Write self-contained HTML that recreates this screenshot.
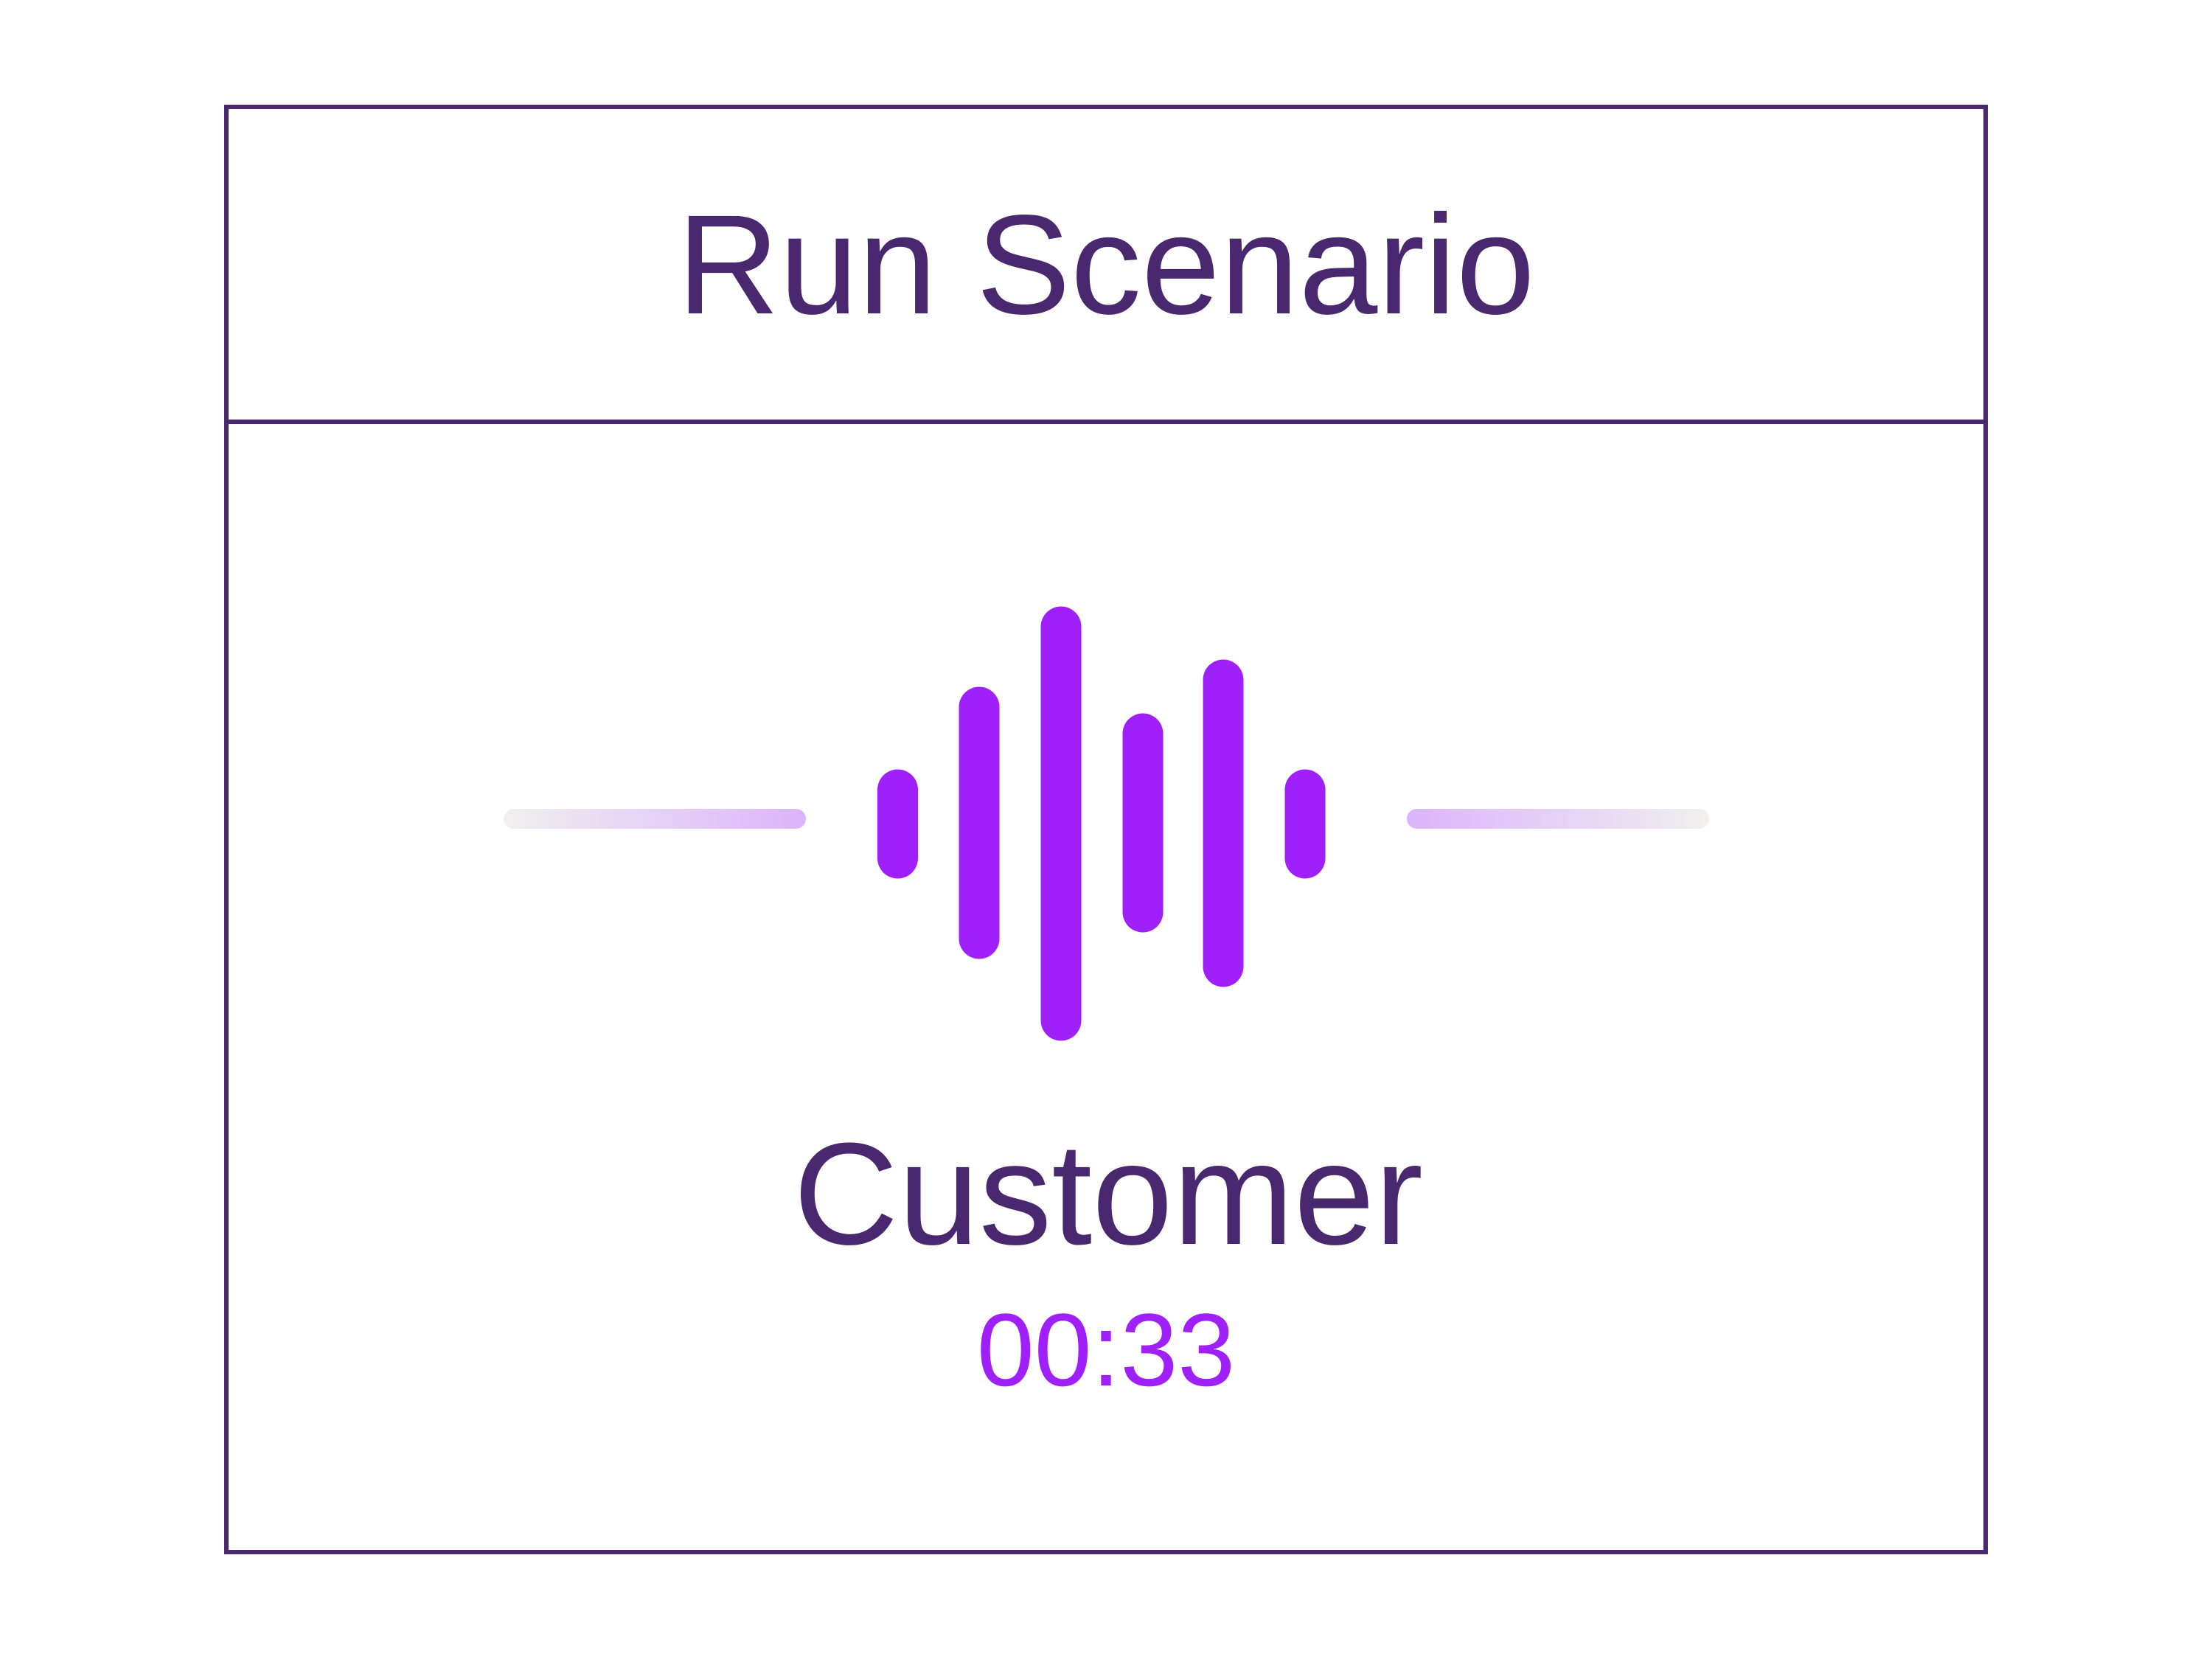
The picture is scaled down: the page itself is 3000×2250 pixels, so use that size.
<!DOCTYPE html>
<html><head><meta charset="utf-8"><style>
html,body{margin:0;padding:0;background:#fff;}
svg{display:block;}
</style></head><body>
<svg width="3000" height="2250" viewBox="0 0 3000 2250" xmlns="http://www.w3.org/2000/svg">
<defs>
<linearGradient id="gl" x1="0" x2="1" y1="0" y2="0"><stop offset="0" stop-color="#f0f0ee"/><stop offset="1" stop-color="#dbb4fb"/></linearGradient>
<linearGradient id="gr" x1="0" x2="1" y1="0" y2="0"><stop offset="0" stop-color="#dbb4fb"/><stop offset="1" stop-color="#f0f0ee"/></linearGradient>
</defs>
<rect x="307" y="145" width="2386" height="1960" fill="none" stroke="#4a2870" stroke-width="6"/>
<line x1="307" y1="572" x2="2693" y2="572" stroke="#4a2870" stroke-width="6"/>
<text x="1500" y="425" text-anchor="middle" font-family="Liberation Sans, sans-serif" font-size="192" fill="#4a2870">Run Scenario</text>
<rect x="683" y="1097" width="410" height="27" rx="13.5" fill="url(#gl)"/>
<rect x="1908" y="1097" width="410" height="27" rx="13.5" fill="url(#gr)"/>
<g stroke="#a020fb" stroke-width="55" stroke-linecap="round">
<line x1="1217.5" y1="1071" x2="1217.5" y2="1164"/>
<line x1="1328" y1="959" x2="1328" y2="1273"/>
<line x1="1439" y1="850" x2="1439" y2="1384"/>
<line x1="1550" y1="995" x2="1550" y2="1237"/>
<line x1="1659" y1="922" x2="1659" y2="1311"/>
<line x1="1770" y1="1071" x2="1770" y2="1164"/>
</g>
<text x="1503" y="1687" text-anchor="middle" font-family="Liberation Sans, sans-serif" font-size="197" fill="#4a2870">Customer</text>
<text x="1500" y="1879" text-anchor="middle" font-family="Liberation Sans, sans-serif" font-size="140" fill="#a020fb">00:33</text>
</svg>
</body></html>
